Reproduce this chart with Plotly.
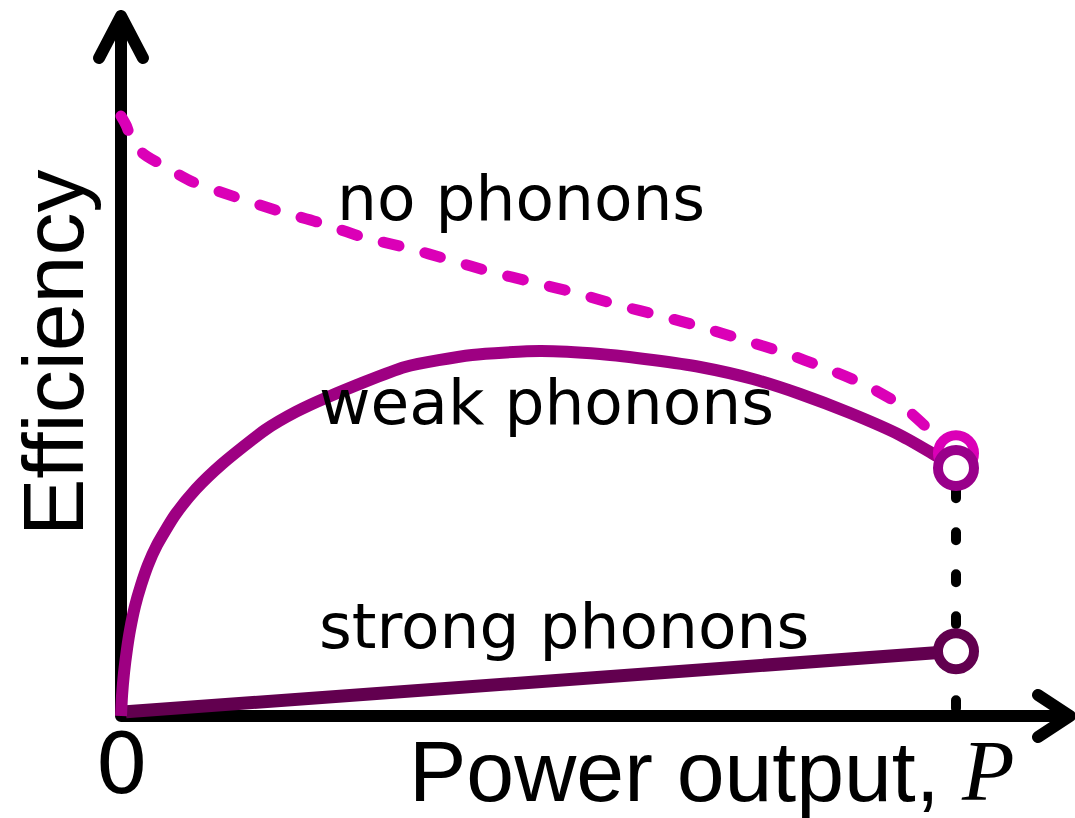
import plotly.graph_objects as go

# Power output as a fraction of the maximum power P (1.0 = P)
# and efficiency in units of the no-phonon efficiency at zero power
p_nophonon = [0.0, 0.006, 0.011, 0.026, 0.050, 0.086, 0.137, 0.188, 0.238, 0.290,
              0.343, 0.394, 0.444, 0.493, 0.545, 0.595, 0.646, 0.696, 0.745, 0.795,
              0.843, 0.891, 0.937, 0.972, 1.0]
eff_nophonon = [1.0, 0.985, 0.968, 0.938, 0.918, 0.890, 0.865, 0.842, 0.822, 0.798,
                0.780, 0.760, 0.740, 0.723, 0.705, 0.685, 0.667, 0.648, 0.627, 0.605,
                0.580, 0.552, 0.515, 0.472, 0.438]

p_weak = [0.0, 0.0012, 0.0036, 0.0072, 0.0108, 0.0168, 0.024, 0.0323, 0.0431, 0.0647,
          0.0898, 0.121, 0.1725, 0.2096, 0.2479, 0.3401, 0.4204, 0.5018, 0.5737, 0.6371,
          0.6934, 0.7569, 0.8132, 0.8731, 0.9329, 0.9689, 1.0]
eff_weak = [0.0, 0.0333, 0.0717, 0.1117, 0.1433, 0.1833, 0.2183, 0.2517, 0.285, 0.335,
            0.3783, 0.42, 0.4767, 0.507, 0.5317, 0.5817, 0.6017, 0.6083, 0.6033, 0.5933,
            0.5817, 0.5617, 0.5367, 0.505, 0.4683, 0.44, 0.4133]

p_strong = [0.006, 1.0]
eff_strong = [0.007, 0.108]

p_max = 1.0
dash_phase = 0.013  # where the vertical guide's dash pattern starts

labels = ['no phonons', 'weak phonons', 'strong phonons']
label_x = [0.479, 0.510, 0.531]
label_y = [0.863, 0.522, 0.150]

c_none = '#DB00B7'
c_weak = '#9E0082'
c_strong = '#62004F'

fig = go.Figure()

# vertical guide at maximum power
fig.add_trace(go.Scatter(x=[p_max, p_max], y=[dash_phase, eff_weak[-1]], mode='lines',
                         line=dict(color='black', width=10, dash='8px,34px')))

fig.add_trace(go.Scatter(x=p_strong, y=eff_strong, mode='lines',
                         line=dict(color=c_strong, width=13)))
fig.add_trace(go.Scatter(x=p_weak, y=eff_weak, mode='lines', line_shape='spline',
                         line=dict(color=c_weak, width=12, smoothing=0.6)))
fig.add_trace(go.Scatter(x=p_nophonon, y=eff_nophonon, mode='lines', line_shape='spline',
                         line=dict(color=c_none, width=11, dash='16px,27px', smoothing=0.8)))

# open circles at the maximum power
for yv, col in [(eff_nophonon[-1], c_none), (eff_weak[-1], '#99008A'), (eff_strong[-1], c_strong)]:
    fig.add_trace(go.Scatter(x=[p_max], y=[yv], mode='markers',
                             marker=dict(symbol='circle', size=36, color='white',
                                         line=dict(color=col, width=10))))

# axes with arrow heads
fig.add_shape(type='path', xref='x', yref='y', layer='below',
              path='M -0.0263,1.0967 L 0,1.1667 L 0.0263,1.0967 '
                   'M 0,1.1667 L 0,0 L 1.1365,0 '
                   'M 1.0982,0.035 L 1.1365,0 L 1.0982,-0.035',
              line=dict(color='black', width=12))

annotations = []
for t, xx, yy in zip(labels, label_x, label_y):
    annotations.append(dict(x=xx, y=yy, text=t, showarrow=False, xanchor='center', yanchor='middle',
                            font=dict(family='DejaVu Sans', size=63, color='black')))
annotations.append(dict(x=0, y=-0.08, text='0', showarrow=False, xanchor='center', yanchor='middle',
                        font=dict(family='DejaVu Sans', size=84, color='black')))
annotations.append(dict(x=0.983, y=-0.0917, text='Power output,', showarrow=False,
                        xanchor='right', yanchor='middle',
                        font=dict(family='Liberation Sans', size=86, color='black')))
annotations.append(dict(x=1.003, y=-0.0917, text='<i>P</i>', showarrow=False,
                        xanchor='left', yanchor='middle',
                        font=dict(family='Liberation Serif', size=86, color='black')))
annotations.append(dict(x=-0.0814, y=0.605, text='Efficiency', showarrow=False, textangle=-90,
                        xanchor='center', yanchor='middle',
                        font=dict(family='Liberation Sans', size=86, color='black')))

fig.update_layout(width=1075, height=818, margin=dict(l=0, r=0, t=0, b=0),
                  showlegend=False, plot_bgcolor='white', paper_bgcolor='white',
                  annotations=annotations)
fig.update_xaxes(range=[-0.14491, 1.14251], visible=False, fixedrange=True)
fig.update_yaxes(range=[-0.17, 1.19333], visible=False, fixedrange=True)

# no page margin, and round line caps like the original drawing
post = """
document.body.style.margin = '0';
document.body.style.overflow = 'hidden';
var gd = document.getElementById('{plot_id}');
function caps(){
  gd.querySelectorAll('.shapelayer path').forEach(function(p){
    p.style.strokeLinecap = 'round'; p.style.strokeLinejoin = 'round';});
  gd.querySelectorAll('path.js-line').forEach(function(p){
    if (p.style.strokeDasharray && p.style.strokeDasharray !== 'none') {
      p.style.strokeLinecap = 'round';}});
}
caps();
gd.on('plotly_afterplot', caps);
"""

fig.write_html("out.html", config={'displayModeBar': False}, post_script=post)
